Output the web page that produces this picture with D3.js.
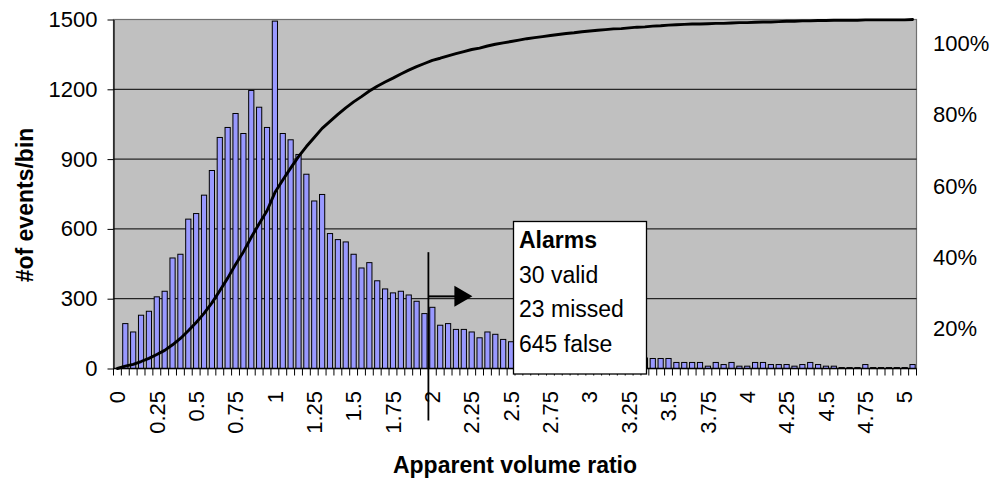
<!DOCTYPE html>
<html>
<head>
<meta charset="utf-8">
<script src="https://cdn.jsdelivr.net/npm/d3@7"></script>
<style>
  body { margin: 0; background: #fff; }
  svg { display: block; }
  text { font-family: "Liberation Sans", Arial, sans-serif; fill: #000; }
</style>
</head>
<body>
<svg id="chart" width="992" height="481"></svg>
<script>
// histogram bins (apparent volume ratio), 0.05 wide
const categories = [0,0.05,0.1,0.15,0.2,0.25,0.3,0.35,0.4,0.45,
  0.5,0.55,0.6,0.65,0.7,0.75,0.8,0.85,0.9,0.95,
  1,1.05,1.1,1.15,1.2,1.25,1.3,1.35,1.4,1.45,
  1.5,1.55,1.6,1.65,1.7,1.75,1.8,1.85,1.9,1.95,
  2,2.05,2.1,2.15,2.2,2.25,2.3,2.35,2.4,2.45,
  2.5,2.55,2.6,2.65,2.7,2.75,2.8,2.85,2.9,2.95,
  3,3.05,3.1,3.15,3.2,3.25,3.3,3.35,3.4,3.45,
  3.5,3.55,3.6,3.65,3.7,3.75,3.8,3.85,3.9,3.95,
  4,4.05,4.1,4.15,4.2,4.25,4.3,4.35,4.4,4.45,
  4.5,4.55,4.6,4.65,4.7,4.75,4.8,4.85,4.9,4.95,
  5,5.05];

// events per bin
const counts = [0,193,157,229,246,308,332,475,491,642,
  666,745,851,993,1036,1096,1010,1195,1123,1036,
  1493,1010,983,920,835,720,748,580,554,544,
  491,432,455,377,342,325,332,316,289,236,
  263,186,193,168,168,157,132,157,147,125,
  115,110,100,95,90,85,80,75,70,68,
  62,60,55,52,50,48,45,45,43,43,
  43,26,26,26,26,10,26,17,26,10,
  10,26,26,17,17,17,10,17,26,17,
  10,10,4,4,4,17,4,4,4,4,
  4,17];

// cumulative share of events (%)
const cumulativePct = [0,0.7,1.2,2.0,2.9,4.0,5.2,6.8,8.6,10.8,
  13.2,15.8,18.8,22.3,25.9,29.8,33.4,37.6,41.5,45.2,
  50.4,54.0,57.4,60.7,63.6,66.2,68.8,70.8,72.8,74.7,
  76.4,77.9,79.5,80.9,82.1,83.2,84.4,85.5,86.5,87.4,
  88.3,88.9,89.6,90.2,90.8,91.4,91.8,92.4,92.9,93.3,
  93.7,94.1,94.5,94.8,95.1,95.4,95.7,96.0,96.2,96.5,
  96.7,96.9,97.1,97.3,97.4,97.6,97.8,97.9,98.1,98.2,
  98.4,98.5,98.6,98.7,98.7,98.8,98.9,98.9,99.0,99.1,
  99.1,99.2,99.3,99.3,99.4,99.5,99.5,99.6,99.6,99.7,
  99.7,99.8,99.8,99.8,99.8,99.9,99.9,99.9,99.9,99.9,
  99.9,100];

const xTickLabels = [0,0.25,0.5,0.75,1,1.25,1.5,1.75,2,2.25,2.5,2.75,3,3.25,3.5,3.75,4,4.25,4.5,4.75,5];
const yTicks = [0,300,600,900,1200,1500];
const pctTicks = [20,40,60,80,100];
const threshold = 2;
const alarmTitle = 'Alarms';
const alarmLines = ['30 valid','23 missed','645 false'];

const plot = {left:113.5, right:916.5, top:19.5, bottom:368.5};
const svg = d3.select('#chart');
const bins = categories.map((c,i)=>({c, n:counts[i], cum:cumulativePct[i]}));

const x = d3.scaleBand().domain(categories).range([plot.left, plot.right]);
const y = d3.scaleLinear().domain([0,1500]).range([plot.bottom, plot.top]);
const yCum = d3.scaleLinear().domain([0,100]).range([plot.bottom, plot.top]);
// the % labels on the right sit a little lower than the plot scale in the original
const yPctLabel = d3.scaleLinear().domain([0,100]).range([400, 43.3]);
const cx = c => x(c) + x.bandwidth()/2;

svg.append('rect').attr('width',992).attr('height',481).attr('fill','#fff');
svg.append('rect').attr('x',plot.left).attr('y',plot.top)
  .attr('width',plot.right-plot.left).attr('height',plot.bottom-plot.top)
  .attr('fill','#c0c0c0').attr('stroke','#707070').attr('stroke-width',1.2);

// gridlines
svg.append('g').selectAll('line').data(yTicks.filter(v=>v>0 && v<1500)).join('line')
  .attr('x1',plot.left).attr('x2',plot.right).attr('y1',d=>y(d)).attr('y2',d=>y(d))
  .attr('stroke','#000').attr('stroke-width',1);

// bars
const bw = x.bandwidth()*0.66;
svg.append('g').selectAll('rect').data(bins.filter(d=>d.n>0)).join('rect')
  .attr('x',d=>cx(d.c)-bw/2).attr('y',d=>y(d.n))
  .attr('width',bw).attr('height',d=>y(0)-y(d.n))
  .attr('fill','#9999ff').attr('stroke','#000').attr('stroke-width',1);

// cumulative line
svg.append('path').datum(bins)
  .attr('d', d3.line().x(d=>cx(d.c)).y(d=>yCum(d.cum)))
  .attr('fill','none').attr('stroke','#000').attr('stroke-width',2.9)
  .attr('stroke-linejoin','round').attr('stroke-linecap','round');

// left axis
const gy = svg.append('g').attr('transform',`translate(${plot.left},0)`)
  .call(d3.axisLeft(y).tickValues(yTicks).tickFormat(d3.format('d'))
    .tickSize(6).tickSizeOuter(0).tickPadding(10));
gy.attr('font-size',22).attr('font-family','"Liberation Sans", Arial, sans-serif');
gy.select('.domain').attr('stroke','#000').attr('stroke-width',1.2);
gy.selectAll('.tick line').attr('stroke','#000');

// right % labels
const gr = svg.append('g').attr('transform',`translate(${plot.right},0)`)
  .call(d3.axisRight(yPctLabel).tickValues(pctTicks).tickSize(0).tickPadding(16.5).tickFormat(d=>d+'%'));
gr.attr('font-size',22).attr('font-family','"Liberation Sans", Arial, sans-serif');
gr.select('.domain').remove();

// bottom axis: ticks between bins, labels every 0.25
svg.append('line').attr('x1',plot.left).attr('x2',plot.right)
  .attr('y1',plot.bottom).attr('y2',plot.bottom).attr('stroke','#000').attr('stroke-width',1.4);
svg.append('g').selectAll('line').data(categories.map(c=>x(c)).concat([plot.right])).join('line')
  .attr('x1',d=>d).attr('x2',d=>d).attr('y1',plot.bottom).attr('y2',plot.bottom+7)
  .attr('stroke','#000').attr('stroke-width',1);
svg.append('g').selectAll('text').data(xTickLabels).join('text')
  .attr('transform',d=>`translate(${cx(d)},391) rotate(-90)`)
  .attr('text-anchor','end').attr('dy','0.35em').attr('font-size',22)
  .text(d=>String(d));

// axis titles
svg.append('text').attr('x',(plot.left+plot.right)/2).attr('y',473)
  .attr('text-anchor','middle').attr('font-size',23).attr('font-weight','bold')
  .text('Apparent volume ratio');
svg.append('text').attr('transform','translate(33,205) rotate(-90)')
  .attr('text-anchor','middle').attr('font-size',23).attr('font-weight','bold')
  .text('#of events/bin');

// alarm threshold marker and arrow
const tx = x(threshold);
svg.append('line').attr('x1',tx).attr('x2',tx).attr('y1',y(500)).attr('y2',plot.bottom+52)
  .attr('stroke','#000').attr('stroke-width',1.8);
const ay = y(310);
svg.append('line').attr('x1',tx).attr('x2',tx+27).attr('y1',ay).attr('y2',ay)
  .attr('stroke','#000').attr('stroke-width',2);
svg.append('path').attr('d',`M${tx+26},${ay-10.5}L${tx+44},${ay}L${tx+26},${ay+10.5}Z`).attr('fill','#000');

// alarms box
const box = svg.append('g');
box.append('rect').attr('x',513.5).attr('y',221.5).attr('width',133).attr('height',152.5)
  .attr('fill','#fff').attr('stroke','#000').attr('stroke-width',1.3);
box.append('text').attr('x',519).attr('y',248.3).attr('font-size',23).attr('font-weight','bold').text(alarmTitle);
box.selectAll('text.l').data(alarmLines).join('text').attr('class','l')
  .attr('x',519).attr('y',(d,i)=>282.5+i*34.5).attr('font-size',23).text(d=>d);
</script>
</body>
</html>
